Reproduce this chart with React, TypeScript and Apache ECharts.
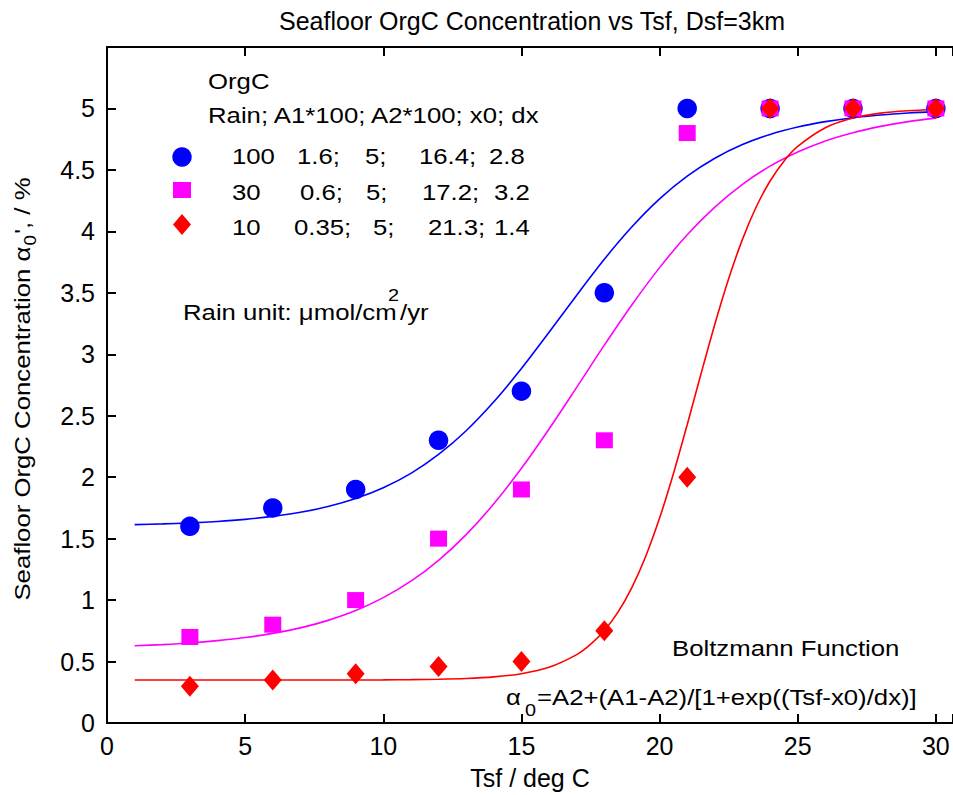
import React, { useEffect, useRef } from 'react';
import * as echarts from 'echarts';

// ---------- data ----------
const tsfPoints = [3, 6, 9, 12, 15, 18, 21, 24, 27, 30];
const rain100Points = [1.6, 1.75, 1.9, 2.3, 2.7, 3.5, 5.0, 5.0, 5.0, 5.0];
const rain30Points = [0.7, 0.8, 1.0, 1.5, 1.9, 2.3, 4.8, 5.0, 5.0, 5.0];
const rain10Points = [0.3, 0.35, 0.4, 0.46, 0.5, 0.75, 2.0, 5.0, 5.0, 5.0];

// fitted curves
const fitTsf = [1, 2, 3, 4, 5, 6, 7, 8, 9, 10, 11, 12, 13, 14, 15, 16, 17, 18, 19, 20, 21, 22, 23, 24, 25, 26, 27, 28, 29, 30];
const fit100 = [1.614, 1.62, 1.628, 1.64, 1.657, 1.681, 1.714, 1.761, 1.826, 1.914, 2.031, 2.185, 2.378, 2.613, 2.884, 3.179, 3.481, 3.773, 4.037, 4.264, 4.449, 4.595, 4.706, 4.789, 4.849, 4.893, 4.925, 4.947, 4.963, 4.974];
const fit30 = [0.628, 0.638, 0.651, 0.67, 0.695, 0.729, 0.774, 0.835, 0.915, 1.02, 1.154, 1.324, 1.533, 1.783, 2.072, 2.392, 2.731, 3.074, 3.403, 3.705, 3.972, 4.197, 4.383, 4.531, 4.646, 4.736, 4.803, 4.854, 4.893, 4.921];
const fitTsf10 = [1, 5, 10, 11, 12, 13, 14, 15, 16, 17, 17.5, 18, 18.5, 19, 19.5, 20, 20.5, 21, 21.5, 22, 22.5, 23, 23.5, 24, 24.5, 25, 26, 27, 28, 29, 30];
const fit10 = [0.35, 0.35, 0.351, 0.353, 0.356, 0.362, 0.375, 0.401, 0.453, 0.556, 0.639, 0.752, 0.904, 1.104, 1.357, 1.667, 2.028, 2.427, 2.841, 3.245, 3.615, 3.935, 4.2, 4.41, 4.571, 4.691, 4.843, 4.922, 4.962, 4.981, 4.991];

// legend table
const rainLabels = ['100', '30', '10'];
const a1Labels = ['1.6;', '0.6;', '0.35;'];
const a2Labels = ['5;', '5;', '5;'];
const x0Labels = ['16.4;', '17.2;', '21.3;'];
const dxLabels = ['2.8', '3.2', '1.4'];

const titleText = 'Seafloor OrgC Concentration vs Tsf, Dsf=3km';
const xName = 'Tsf / deg C';

// ---------- style / layout ----------
const FONT = 'Liberation Sans';
const SX = 1.17;
const BLUE = '#0000ff';
const MAGENTA = '#ff00ff';
const RED = '#ff0000';
const X_MAX = 30.62;

const legendRowY = [156, 192, 227];
const legendColX = [
  [232, 297, 365, 419, 489],
  [232, 300, 366, 422, 494],
  [232, 294, 373, 428, 494],
];

function measure(s: string, size: number): number {
  const c = document.createElement('canvas').getContext('2d');
  if (!c) return s.length * size * 0.55;
  c.font = `${size}px "${FONT}"`;
  return c.measureText(s).width;
}

function txt(text: string, x: number, y: number, size = 22, extra: any = {}) {
  return {
    type: 'text',
    x,
    y,
    scaleX: SX,
    style: {
      text,
      fontSize: size,
      fontFamily: FONT,
      fill: '#000',
      align: 'left',
      verticalAlign: 'middle',
    },
    ...extra,
  };
}

function buildGraphic() {
  const g: any[] = [];
  g.push(txt('OrgC', 208, 81));
  g.push(txt('Rain; A1*100; A2*100; x0; dx', 208, 115));
  const cols = [rainLabels, a1Labels, a2Labels, x0Labels, dxLabels];
  for (let r = 0; r < 3; r++) {
    cols.forEach((col, c) => {
      g.push(txt(col[r], legendColX[r][c], legendRowY[r]));
    });
  }
  g.push({ type: 'circle', shape: { cx: 182, cy: 157, r: 9.7 }, style: { fill: BLUE } });
  g.push({ type: 'rect', shape: { x: 173, y: 182, width: 18, height: 16 }, style: { fill: MAGENTA } });
  g.push({
    type: 'polygon',
    shape: { points: [[182, 214], [191, 224.5], [182, 235], [173, 224.5]] },
    style: { fill: RED },
  });

  // Rain unit
  g.push(txt('Rain unit: \u03bcmol/cm', 183, 312));
  g.push(txt('2', 388, 295, 17));
  g.push(txt('/yr', 400, 312));

  // Boltzmann annotation
  g.push(txt('Boltzmann Function', 672, 648));
  g.push(txt('\u03b1', 506, 697));
  g.push(txt('0', 525, 710, 17));
  g.push(txt('=A2+(A1-A2)/[1+exp((Tsf-x0)/dx)]', 537, 697));

  // y axis name (rotated)
  const p1 = 'Seafloor OrgC Concentration ';
  const p2 = '\u03b1';
  const p3 = '0';
  const p4 = "', / %";
  const w1 = measure(p1, 22);
  const w2 = measure(p2, 22);
  const w3 = measure(p3, 16);
  const w4 = measure(p4, 22);
  const total = (w1 + w2 + w3 + 2 + w4) * SX;
  const base = (s: string, x: number, y: number, size: number) => ({
    type: 'text',
    x,
    y,
    style: { text: s, fontSize: size, fontFamily: FONT, fill: '#000', align: 'left', verticalAlign: 'middle' },
  });
  g.push({
    type: 'group',
    x: 22,
    y: 389 + total / 2,
    rotation: Math.PI / 2,
    scaleX: SX,
    children: [
      base(p1, 0, 0, 22),
      base(p2, w1, 0, 22),
      base(p3, w1 + w2 + 1, 8, 16),
      base(p4, w1 + w2 + w3 + 2, 0, 22),
    ],
  });
  return g;
}

const axisLineStyle = { color: '#000', width: 2 };
const labelStyle = { fontFamily: FONT, fontSize: 25, color: '#000' };

export default function App() {
  const ref = useRef<HTMLDivElement>(null);
  useEffect(() => {
    if (!ref.current) return;
    const chart = echarts.init(ref.current, undefined, { renderer: 'svg' });
    const pairs = (xs: number[], ys: number[]) => xs.map((x, i) => [x, ys[i]]);
    const lineSeries = (name: string, xs: number[], ys: number[], color: string) => ({
      name,
      type: 'line',
      data: pairs(xs, ys),
      showSymbol: false,
      symbol: 'none',
      smooth: 0.3,
      lineStyle: { color, width: 1.6 },
      z: 2,
    });
    const scatterSeries = (name: string, ys: number[], color: string, symbol: string, size: any) => ({
      name,
      type: 'scatter',
      data: pairs(tsfPoints, ys),
      symbol,
      symbolSize: size,
      itemStyle: { color, opacity: 1 },
      z: 3,
    });
    const option: any = {
      animation: false,
      backgroundColor: '#ffffff',
      title: {
        text: titleText,
        left: 527,
        top: 3,
        textAlign: 'center',
        textStyle: { fontFamily: FONT, fontSize: 25, fontWeight: 'normal', color: '#000' },
      },
      grid: { left: 107, right: 0, top: 47, bottom: 72, containLabel: false, outerBoundsMode: 'none' },
      xAxis: [
        {
          type: 'value',
          min: 0,
          max: X_MAX,
          interval: 5,
          position: 'bottom',
          name: xName,
          nameLocation: 'middle',
          nameGap: 42,
          nameTextStyle: labelStyle,
          axisLine: { show: true, onZero: false, lineStyle: axisLineStyle },
          axisTick: { show: true, inside: true, length: 9, lineStyle: axisLineStyle },
          axisLabel: {
            ...labelStyle,
            margin: 10,
            formatter: (v: number) => (Math.abs(v % 5) < 1e-9 ? String(v) : ''),
          },
          splitLine: { show: false },
        },
        {
          type: 'value',
          min: 0,
          max: X_MAX,
          interval: 5,
          position: 'top',
          axisLine: { show: true, onZero: false, lineStyle: axisLineStyle },
          axisTick: { show: true, inside: true, length: 9, lineStyle: axisLineStyle },
          axisLabel: { show: false },
          splitLine: { show: false },
        },
      ],
      yAxis: {
        type: 'value',
        min: 0,
        max: 5.5,
        interval: 0.5,
        axisLine: { show: true, onZero: false, lineStyle: axisLineStyle },
        axisTick: { show: true, inside: true, length: 9, lineStyle: axisLineStyle },
        axisLabel: {
          ...labelStyle,
          margin: 12,
          formatter: (v: number) => (v > 5.2 ? '' : String(v)),
        },
        splitLine: { show: false },
      },
      series: [
        lineSeries('fit 100', fitTsf, fit100, BLUE),
        lineSeries('fit 30', fitTsf, fit30, MAGENTA),
        lineSeries('fit 10', fitTsf10, fit10, RED),
        scatterSeries('Rain 100', rain100Points, BLUE, 'circle', 19.5),
        scatterSeries('Rain 30', rain30Points, MAGENTA, 'rect', [17, 16]),
        scatterSeries('Rain 10', rain10Points, RED, 'diamond', [18, 21]),
      ],
      graphic: buildGraphic(),
    };
    chart.setOption(option);
    return () => chart.dispose();
  }, []);
  return (
    <div
      ref={ref}
      style={{ position: 'fixed', left: 0, top: 0, width: 953, height: 795, background: '#fff' }}
    />
  );
}
